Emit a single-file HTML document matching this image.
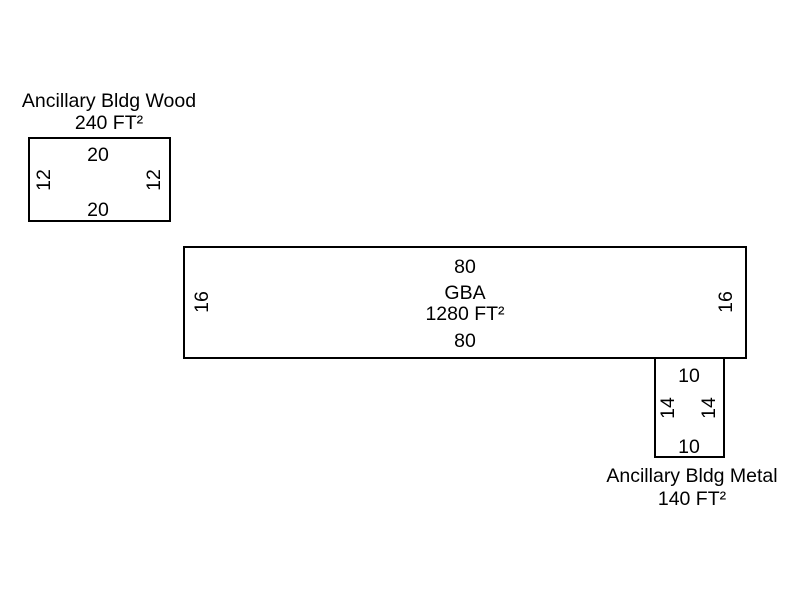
<!DOCTYPE html>
<html><head><meta charset="utf-8"><style>
body{margin:0;background:#fff}
svg text{font-family:"Liberation Sans",Arial,sans-serif;font-size:19.5px;fill:#000}
</style></head><body>
<svg width="800" height="600" xmlns="http://www.w3.org/2000/svg">
<g fill="none" stroke="#000" stroke-width="2">
<rect x="29" y="138" width="141" height="83"/>
<rect x="184" y="247" width="562" height="111"/>
<rect x="655" y="358" width="69" height="99"/>
</g>
<g text-anchor="middle">
<text x="109" y="107">Ancillary Bldg Wood</text>
<text x="109" y="129">240 FT²</text>
<text x="98" y="161">20</text>
<text x="98" y="216">20</text>
<text transform="translate(50,180) rotate(-90)">12</text>
<text transform="translate(160,180) rotate(-90)">12</text>
<text x="465" y="273">80</text>
<text x="465" y="299">GBA</text>
<text x="465" y="320">1280 FT²</text>
<text x="465" y="347">80</text>
<text transform="translate(208,302) rotate(-90)">16</text>
<text transform="translate(732,302) rotate(-90)">16</text>
<text x="689" y="382">10</text>
<text x="689" y="453">10</text>
<text transform="translate(674,408) rotate(-90)">14</text>
<text transform="translate(715,408) rotate(-90)">14</text>
<text x="692" y="482">Ancillary Bldg Metal</text>
<text x="692" y="505">140 FT²</text>
</g>
</svg>
</body></html>
